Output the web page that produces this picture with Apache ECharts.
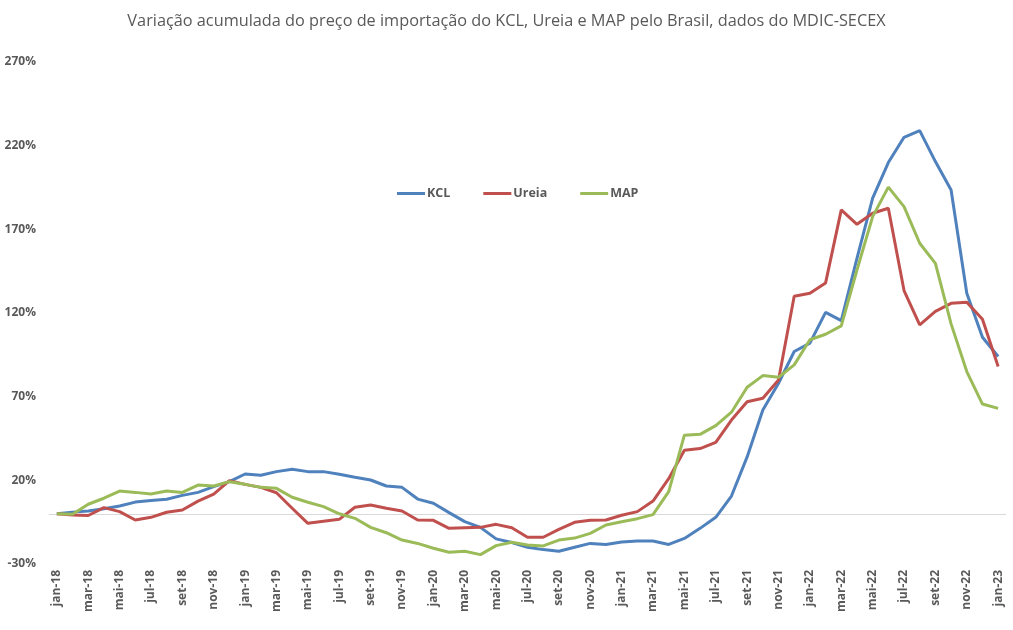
<!DOCTYPE html>
<html>
<head>
<meta charset="utf-8">
<script src="https://cdn.jsdelivr.net/npm/echarts@6/dist/echarts.min.js"></script>
<style>
  html, body { margin: 0; padding: 0; background: #fff; }
  #chart { width: 1013px; height: 630px; }
</style>
</head>
<body>
<div id="chart"></div>
<script>
// meses jan-18 .. jan-23
var meses = ['jan','fev','mar','abr','mai','jun','jul','ago','set','out','nov','dez'];
var categorias = [];
for (var a = 18; a <= 23; a++) {
  meses.forEach(function (m) {
    if (a < 23 || m == 'jan') categorias.push(m + '-' + a);
  });
}

// variação acumulada (%)
var kcl = [0, 1, 1.7, 3, 4.7, 7, 8, 8.7, 11, 12.8, 16.2, 19.2,
  23.8, 23, 25.2, 26.6, 25.2, 25.2, 23.6, 21.8, 20.2, 16.6, 15.8, 8.8,
  6.3, 0.7, -4.7, -8.1, -15, -17.2, -20, -21.4, -22.4, -20, -17.7, -18.3,
  -16.9, -16.3, -16.3, -18.3, -14.7, -8.7, -2.1, 10.6, 34, 62, 78, 97,
  102, 120.4, 115.4, 152.7, 188.6, 209.9, 225, 229, 210.5, 193.5, 131.8, 105.5,
  94];

var ureia = [0, -0.7, -1, 3.7, 1.3, -3.7, -2.1, 0.9, 2.3, 7.6, 11.8, 19.8,
  17.6, 15.8, 12.6, 3.3, -5.7, -4.5, -3.3, 3.9, 5.3, 3.3, 1.7, -3.7,
  -3.9, -8.7, -8.3, -8.1, -6.3, -8.3, -14, -14, -9.3, -5.1, -3.9, -3.7,
  -0.9, 1.3, 7.6, 21, 38, 39, 42.7, 56, 67, 69, 80, 130,
  131.8, 138, 181.6, 173, 179.6, 182.6, 133.4, 112.9, 121, 125.8, 126.4, 116.3,
  88];

var map = [0, -0.3, 5.7, 9.3, 13.6, 12.8, 11.8, 13.6, 12.8, 17.2, 16.6, 19.2,
  17.6, 15.8, 15.2, 9.9, 6.9, 4.3, 0, -2.7, -8.1, -11.3, -15.7, -17.7,
  -20.6, -23, -22.4, -24.4, -19, -17, -18.6, -19.2, -15.7, -14.5, -11.7, -6.7,
  -4.7, -2.9, -0.5, 13.2, 47, 47.5, 52.7, 60.7, 75.6, 82.6, 81.6, 89,
  104, 107.3, 112.3, 145.7, 177.6, 195.2, 183.6, 161.7, 149.7, 113.5, 85, 65.6,
  63];

var cinza = '#595959';

function serie(nome, dados, cor) {
  return {
    name: nome,
    type: 'line',
    data: dados,
    symbol: 'none',
    lineStyle: { width: 3, color: cor },
    itemStyle: { color: cor },
    z: 3
  };
}

var series = [
  serie('KCL', kcl, '#4F81BD'),
  serie('Ureia', ureia, '#C0504D'),
  serie('MAP', map, '#9BBB59')
];

// linha do zero
series[0].markLine = {
  silent: true,
  symbol: 'none',
  label: { show: false },
  lineStyle: { color: '#D9D9D9', width: 1, type: 'solid' },
  data: [{ yAxis: 0 }],
  z: 1
};

var chart = echarts.init(document.getElementById('chart'));
chart.setOption({
  animation: false,
  backgroundColor: '#fff',
  title: {
    text: 'Variação acumulada do preço de importação do KCL, Ureia e MAP pelo Brasil, dados do MDIC-SECEX',
    left: 'center',
    top: 8,
    textStyle: { color: cinza, fontSize: 16.3, fontWeight: 'normal', fontFamily: 'Open Sans' }
  },
  legend: {
    left: 392,
    top: 182,
    itemWidth: 28,
    itemHeight: 3,
    itemGap: 33,
    icon: 'rect',
    textStyle: { color: cinza, fontSize: 12.5, fontWeight: 'bold', fontFamily: 'Open Sans', padding: [0, 0, 0, -3] },
    data: ['KCL', 'Ureia', 'MAP']
  },
  grid: { left: 49, right: 7, top: 62, bottom: 66 },
  xAxis: {
    type: 'category',
    data: categorias,
    boundaryGap: true,
    axisLine: { show: false },
    axisTick: { show: false },
    axisLabel: {
      interval: 1,
      rotate: 90,
      margin: 6,
      color: cinza,
      fontSize: 12,
      fontWeight: 'bold',
      fontFamily: 'Open Sans'
    }
  },
  yAxis: {
    type: 'value',
    min: -30,
    max: 270,
    interval: 50,
    axisLine: { show: false },
    axisTick: { show: false },
    splitLine: { show: false },
    axisLabel: {
      formatter: '{value}%',
      margin: 13,
      color: cinza,
      fontSize: 12,
      fontWeight: 'bold',
      fontFamily: 'Open Sans'
    }
  },
  series: series
});
</script>
</body>
</html>
